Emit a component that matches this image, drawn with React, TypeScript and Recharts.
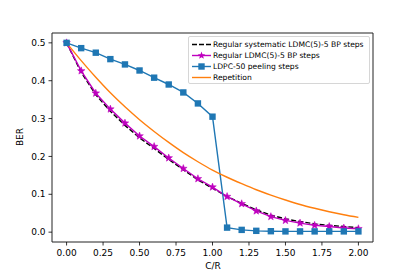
import React from 'react';
import {
  ComposedChart,
  Line,
  XAxis,
  YAxis,
  ReferenceArea,
} from 'recharts';

const crValues = [0, 0.1, 0.2, 0.3, 0.4, 0.5, 0.6, 0.7, 0.8, 0.9, 1.0, 1.1, 1.2, 1.3, 1.4, 1.5, 1.6, 1.7, 1.8, 1.9, 2.0];
const systematicLdmc = [0.5, 0.422, 0.363, 0.319, 0.282, 0.249, 0.221, 0.192, 0.165, 0.138, 0.116, 0.094, 0.076, 0.059, 0.045, 0.035, 0.028, 0.022, 0.018, 0.015, 0.012];
const regularLdmc = [0.5, 0.426, 0.367, 0.325, 0.288, 0.254, 0.226, 0.196, 0.168, 0.141, 0.119, 0.094, 0.075, 0.056, 0.041, 0.031, 0.024, 0.018, 0.015, 0.011, 0.009];
const ldpcPeeling = [0.5, 0.486, 0.474, 0.457, 0.443, 0.427, 0.408, 0.39, 0.369, 0.34, 0.305, 0.012, 0.006, 0.0035, 0.0025, 0.002, 0.002, 0.002, 0.002, 0.002, 0.002];
const repetition = [0.5, 0.453, 0.409, 0.368, 0.331, 0.297, 0.266, 0.237, 0.21, 0.186, 0.164, 0.145, 0.128, 0.112, 0.098, 0.085, 0.073, 0.063, 0.054, 0.046, 0.039];

const xTicks = [0, 0.25, 0.5, 0.75, 1.0, 1.25, 1.5, 1.75, 2.0];
const yTicks = [0, 0.1, 0.2, 0.3, 0.4, 0.5];

const data = crValues.map((x, i) => ({
  x,
  sys: systematicLdmc[i],
  reg: regularLdmc[i],
  ldpc: ldpcPeeling[i],
  rep: repetition[i],
}));

const BLUE = '#1f77b4';
const MAGENTA = '#bf00bf';
const ORANGE = '#ff7f0e';
const FONT = '"DejaVu Sans", sans-serif';

const starPoints = (cx: number, cy: number, r: number) => {
  const pts: string[] = [];
  for (let k = 0; k < 10; k++) {
    const rad = k % 2 === 0 ? r : r * 0.42;
    const a = -Math.PI / 2 + (k * Math.PI) / 5;
    pts.push(`${cx + rad * Math.cos(a)},${cy + rad * Math.sin(a)}`);
  }
  return pts.join(' ');
};

const StarDot = (props: any) => {
  const { cx, cy, index } = props;
  if (cx == null || cy == null) return <g key={index} />;
  return <polygon key={index} points={starPoints(cx, cy, 4)} fill={MAGENTA} stroke={MAGENTA} strokeWidth={0.5} />;
};

const SquareDot = (props: any) => {
  const { cx, cy, index } = props;
  if (cx == null || cy == null) return <g key={index} />;
  return <rect key={index} x={cx - 3.2} y={cy - 3.2} width={6.4} height={6.4} fill={BLUE} />;
};

const legendItems = [
  { label: 'Regular systematic LDMC(5)-5 BP steps', color: '#000', dash: '5 2', marker: 'none' },
  { label: 'Regular LDMC(5)-5 BP steps', color: MAGENTA, dash: undefined, marker: 'star' },
  { label: 'LDPC-50 peeling steps', color: BLUE, dash: undefined, marker: 'square' },
  { label: 'Repetition', color: ORANGE, dash: undefined, marker: 'none' },
];

export default function App() {
  return (
    <div style={{ position: 'absolute', left: 0, top: 0, width: 415, height: 277, background: '#fff', fontFamily: FONT }}>
      <ComposedChart
        width={415}
        height={277}
        data={data}
        margin={{ top: 33, right: 42, bottom: 0, left: 0 }}
      >
        <XAxis
          dataKey="x"
          type="number"
          domain={[-0.1, 2.1]}
          ticks={xTicks}
          tickFormatter={(v: number) => v.toFixed(2)}
          allowDataOverflow
          axisLine={false}
          tickLine={{ stroke: '#000', strokeWidth: 0.8 }}
          tickSize={3.5}
          tickMargin={4}
          height={35}
          tick={{ fill: '#000', fontSize: 9, fontFamily: FONT }}
        />
        <YAxis
          type="number"
          domain={[-0.026, 0.526]}
          ticks={yTicks}
          tickFormatter={(v: number) => v.toFixed(1)}
          allowDataOverflow
          axisLine={false}
          tickLine={{ stroke: '#000', strokeWidth: 0.8 }}
          tickSize={3.5}
          tickMargin={3}
          width={52}
          tick={{ fill: '#000', fontSize: 9, fontFamily: FONT }}
        />
        <ReferenceArea
          x1={-0.1}
          x2={2.1}
          y1={-0.026}
          y2={0.526}
          fill="none"
          fillOpacity={0}
          stroke="#222"
          strokeWidth={1}
        />
        <Line
          dataKey="sys"
          type="linear"
          stroke="#000"
          strokeWidth={1.4}
          strokeDasharray="5 2.2"
          dot={false}
          isAnimationActive={false}
        />
        <Line
          dataKey="reg"
          type="linear"
          stroke={MAGENTA}
          strokeWidth={1.4}
          dot={<StarDot />}
          isAnimationActive={false}
        />
        <Line
          dataKey="ldpc"
          type="linear"
          stroke={BLUE}
          strokeWidth={1.4}
          dot={<SquareDot />}
          isAnimationActive={false}
        />
        <Line
          dataKey="rep"
          type="monotone"
          stroke={ORANGE}
          strokeWidth={1.4}
          dot={false}
          isAnimationActive={false}
        />
      </ComposedChart>

      <div style={{ position: 'absolute', left: 197, top: 260, fontSize: 9, color: '#000', lineHeight: '12px', width: 32, textAlign: 'center' }}>
        C/R
      </div>
      <div
        style={{
          position: 'absolute',
          left: 20,
          top: 137,
          fontSize: 9,
          color: '#000',
          lineHeight: '10px',
          transform: 'translate(-50%, -50%) rotate(-90deg)',
        }}
      >
        BER
      </div>

      <div
        style={{
          position: 'absolute',
          left: 188,
          top: 36,
          width: 182,
          height: 48,
          border: '1px solid #d6d6d6',
          borderRadius: 2,
          background: 'rgba(255,255,255,0.8)',
          boxSizing: 'border-box',
          paddingTop: 2,
        }}
      >
        {legendItems.map((it) => (
          <div key={it.label} style={{ display: 'flex', alignItems: 'center', height: 11, paddingLeft: 3 }}>
            <svg width={20} height={9} style={{ marginRight: 1 }}>
              <line x1={0} y1={4.5} x2={19} y2={4.5} stroke={it.color} strokeWidth={1.4} strokeDasharray={it.dash} />
              {it.marker === 'star' && <polygon points={starPoints(9.5, 4.5, 4)} fill={MAGENTA} />}
              {it.marker === 'square' && <rect x={6.3} y={1.3} width={6.4} height={6.4} fill={BLUE} />}
            </svg>
            <span style={{ fontSize: 7.6, color: '#000', whiteSpace: 'nowrap' }}>{it.label}</span>
          </div>
        ))}
      </div>
    </div>
  );
}
